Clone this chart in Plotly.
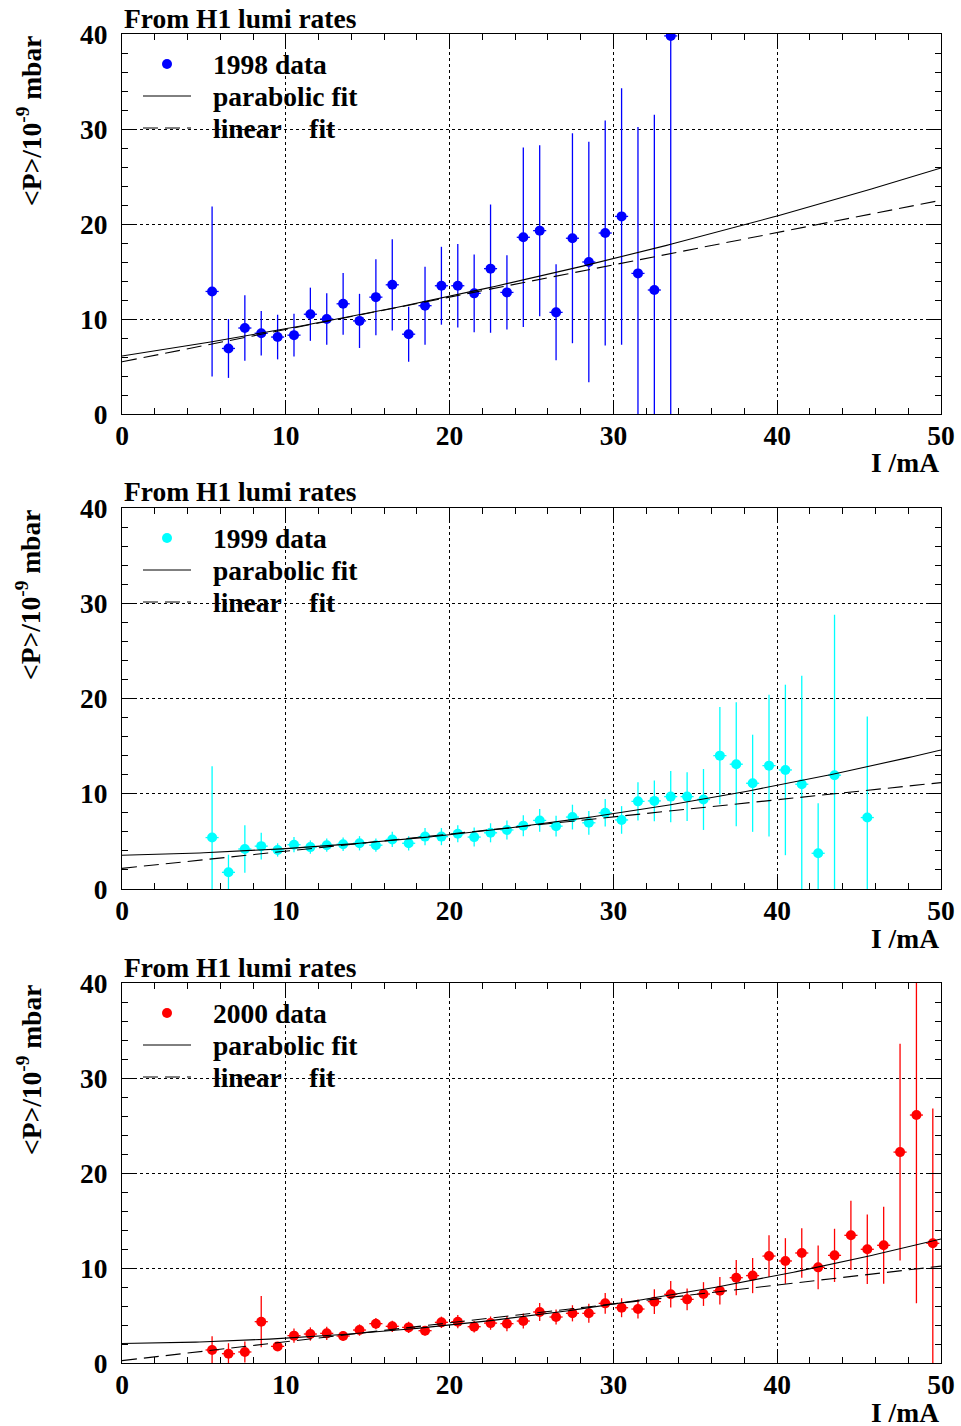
import numpy as np
import plotly.graph_objects as go

# ---- measured mean pressure vs. beam current, per year ----
current_1998 = [5.5, 6.5, 7.5, 8.5, 9.5, 10.5, 11.5, 12.5, 13.5, 14.5, 15.5, 16.5,
                17.5, 18.5, 19.5, 20.5, 21.5, 22.5, 23.5, 24.5, 25.5, 26.5, 27.5,
                28.5, 29.5, 30.5, 31.5, 32.5, 33.5]
pressure_1998 = [12.9, 6.9, 9.05, 8.5, 8.1, 8.3, 10.5, 10.0, 11.6, 9.8, 12.3, 13.6,
                 8.4, 11.4, 13.5, 13.5, 12.7, 15.3, 12.8, 18.6, 19.3, 10.7, 18.5,
                 16.0, 19.05, 20.8, 14.8, 13.05, 39.8]
error_1998 = [8.95, 3.1, 3.45, 2.35, 2.35, 2.25, 2.8, 2.7, 3.25, 2.85, 4.0, 4.8,
              2.9, 4.1, 4.1, 4.4, 4.1, 6.75, 3.9, 9.45, 9.0, 5.05, 11.05,
              12.65, 11.85, 13.5, 15.4, 18.45, 45.0]

current_1999 = [5.5, 6.5, 7.5, 8.5, 9.5, 10.5, 11.5, 12.5, 13.5, 14.5, 15.5, 16.5,
                17.5, 18.5, 19.5, 20.5, 21.5, 22.5, 23.5, 24.5, 25.5, 26.5, 27.5,
                28.5, 29.5, 30.5, 31.5, 32.5, 33.5, 34.5, 35.5, 36.5, 37.5, 38.5,
                39.5, 40.5, 41.5, 42.5, 43.5, 45.5]
pressure_1999 = [5.4, 1.75, 4.2, 4.5, 4.1, 4.65, 4.4, 4.6, 4.7, 4.8, 4.6, 5.2,
                 4.8, 5.5, 5.5, 5.8, 5.45, 5.9, 6.2, 6.65, 7.2, 6.6, 7.55,
                 6.95, 8.0, 7.25, 9.2, 9.25, 9.7, 9.7, 9.4, 14.0, 13.1, 11.1,
                 12.95, 12.5, 11.0, 3.75, 11.95, 7.5]
error_1999 = [7.5, 1.85, 2.5, 1.4, 0.7, 0.8, 0.7, 0.7, 0.7, 0.75, 0.7, 0.8,
              0.75, 0.9, 0.9, 0.9, 1.0, 1.0, 1.0, 1.1, 1.2, 1.1, 1.3,
              1.25, 1.45, 1.45, 2.0, 2.15, 2.7, 2.55, 3.2, 5.1, 6.5, 5.1,
              7.45, 8.95, 11.4, 5.25, 16.85, 10.6]

current_2000 = [5.5, 6.5, 7.5, 8.5, 9.5, 10.5, 11.5, 12.5, 13.5, 14.5, 15.5, 16.5,
                17.5, 18.5, 19.5, 20.5, 21.5, 22.5, 23.5, 24.5, 25.5, 26.5, 27.5,
                28.5, 29.5, 30.5, 31.5, 32.5, 33.5, 34.5, 35.5, 36.5, 37.5, 38.5,
                39.5, 40.5, 41.5, 42.5, 43.5, 44.5, 45.5, 46.5, 47.5, 48.5, 49.5]
pressure_2000 = [1.37, 0.98, 1.16, 4.35, 1.75, 2.88, 3.05, 3.12, 2.84, 3.47, 4.14, 3.86,
                 3.75, 3.4, 4.28, 4.35, 3.82, 4.2, 4.14, 4.42, 5.37, 4.84, 5.23,
                 5.23, 6.28, 5.82, 5.68, 6.46, 7.23, 6.7, 7.26, 7.6, 8.98, 9.2,
                 11.26, 10.74, 11.58, 10.07, 11.33, 13.44, 11.97, 12.39, 22.2, 26.1, 12.6]
error_2000 = [1.45, 1.1, 1.1, 2.7, 0.4, 0.75, 0.7, 0.7, 0.5, 0.6, 0.6, 0.6,
              0.6, 0.5, 0.6, 0.7, 0.6, 0.7, 0.8, 0.8, 0.95, 0.8, 0.85,
              1.0, 1.1, 1.0, 1.0, 1.3, 1.4, 1.15, 1.25, 1.45, 1.85, 1.85,
              2.2, 2.4, 2.6, 2.3, 2.8, 3.65, 3.65, 4.05, 11.4, 19.8, 14.2]

bin_halfwidth = 0.4

# fit coefficients p0 + p1*I + p2*I^2 (parabolic) and p0 + p1*I (linear)
parabolic_1998 = [6.1, 0.260, 0.00272]
linear_1998 = [5.5, 0.34]
parabolic_1999 = [3.55, 0.031, 0.0038]
linear_1999 = [2.17, 0.18]
parabolic_2000 = [2.05, 0.015, 0.0041]
linear_2000 = [0.25, 0.199]

years = ["1998", "1999", "2000"]
colors = ["#0000ff", "#00ffff", "#ff0000"]
datasets = [
    (current_1998, pressure_1998, error_1998, parabolic_1998, linear_1998),
    (current_1999, pressure_1999, error_1999, parabolic_1999, linear_1999),
    (current_2000, pressure_2000, error_2000, parabolic_2000, linear_2000),
]

x_ticks = [0, 10, 20, 30, 40, 50]
y_ticks = [0, 10, 20, 30, 40]

# ---- page geometry (pixels from the top-left corner) ----
FW, FH = 961, 1426
LEFT, RIGHT = 122, 941
panel_tops = [34, 508, 983]
panel_bottoms = [414, 889, 1363]

FONT = "Liberation Serif"
FS = 27.5


def px(p):
    return p / FW


def py(p):
    return 1 - p / FH


fig = go.Figure()
annotations = []
shapes = []
bold = dict(family=FONT, size=FS, color="black", weight="bold")

fit_x = np.linspace(0, 50, 201)

for i, (xs, ys, es, par, lin) in enumerate(datasets):
    n = "" if i == 0 else str(i + 1)
    xa, ya = "x" + n, "y" + n
    col = colors[i]

    par_y = par[0] + par[1] * fit_x + par[2] * fit_x ** 2
    lin_y = lin[0] + lin[1] * fit_x

    fig.add_trace(go.Scatter(
        x=xs, y=ys, mode="markers", xaxis=xa, yaxis=ya,
        marker=dict(color=col, size=10, line=dict(width=0)),
        error_y=dict(type="data", array=es, color=col, thickness=1.3, width=0),
        error_x=dict(type="constant", value=bin_halfwidth, color=col, thickness=1.3, width=0),
        showlegend=False,
    ))
    fig.add_trace(go.Scatter(
        x=fit_x, y=par_y, mode="lines", xaxis=xa, yaxis=ya,
        line=dict(color="black", width=1.1), showlegend=False,
    ))
    fig.add_trace(go.Scatter(
        x=fit_x, y=lin_y, mode="lines", xaxis=xa, yaxis=ya,
        line=dict(color="black", width=1.1, dash="15px,7px"), showlegend=False,
    ))

    top, bot = panel_tops[i], panel_bottoms[i]
    axis_common = dict(
        showline=True, linecolor="black", linewidth=1.2, mirror="ticks",
        ticks="inside", ticklen=12, tickwidth=1, tickcolor="black",
        showgrid=True, gridcolor="black", gridwidth=1, griddash="dot",
        zeroline=False, automargin=False,
        tickfont=bold,
        minor=dict(dtick=2, ticks="inside", ticklen=6, tickcolor="black", showgrid=False),
    )
    fig.update_layout(**{
        ("xaxis" + n): dict(
            axis_common, anchor=ya, range=[0, 50], tickvals=x_ticks,
            domain=[px(LEFT), px(RIGHT)], ticklabelstandoff=-3,
        ),
        ("yaxis" + n): dict(
            axis_common, anchor=xa, range=[0, 40], tickvals=y_ticks,
            domain=[py(bot), py(top)], ticklabelstandoff=8,
        ),
    })

    # panel heading
    annotations.append(dict(
        text="From H1 lumi rates", x=px(LEFT), y=py(top - 16), xref="paper", yref="paper",
        xanchor="left", yanchor="middle", showarrow=False, font=bold,
    ))
    # axis titles
    annotations.append(dict(
        text="I /mA", x=px(RIGHT), y=py(bot + 49), xref="paper", yref="paper",
        xanchor="right", yanchor="middle", showarrow=False, font=bold,
    ))
    annotations.append(dict(
        text="&lt;P&gt;/10<sup>-9</sup> mbar", x=px(29), y=py(top + 87),
        xref="paper", yref="paper", xanchor="center", yanchor="middle",
        textangle=-90, showarrow=False, font=bold,
    ))
    # legend block
    leg_rows = [top + 30, top + 62, top + 94]
    fig.add_trace(go.Scatter(
        x=[px(167)], y=[py(leg_rows[0])], mode="markers", xaxis="x4", yaxis="y4",
        marker=dict(color=col, size=10), showlegend=False, hoverinfo="skip",
    ))
    shapes.append(dict(type="line", xref="paper", yref="paper",
                       x0=px(143), x1=px(191), y0=py(leg_rows[1]), y1=py(leg_rows[1]),
                       line=dict(color="black", width=1)))
    shapes.append(dict(type="line", xref="paper", yref="paper",
                       x0=px(143), x1=px(191), y0=py(leg_rows[2]), y1=py(leg_rows[2]),
                       line=dict(color="black", width=1, dash="15px,7px")))
    for txt, row in zip([years[i] + " data", "parabolic fit",
                         "linear\u00a0\u00a0\u00a0\u00a0fit"], leg_rows):
        annotations.append(dict(
            text=txt, x=px(211), y=py(row), xref="paper", yref="paper",
            xanchor="left", yanchor="middle", showarrow=False, font=bold,
        ))

# overlay axis in paper units for the legend markers
fig.update_layout(
    xaxis4=dict(domain=[0, 1], range=[0, 1], visible=False, anchor="y4", automargin=False),
    yaxis4=dict(domain=[0, 1], range=[0, 1], visible=False, anchor="x4", automargin=False),
)

fig.update_layout(
    width=FW, height=FH,
    margin=dict(l=0, r=0, t=0, b=0, autoexpand=False),
    paper_bgcolor="white", plot_bgcolor="rgba(0,0,0,0)",
    annotations=annotations, shapes=shapes,
    showlegend=False,
)

fig.write_html("out.html")
